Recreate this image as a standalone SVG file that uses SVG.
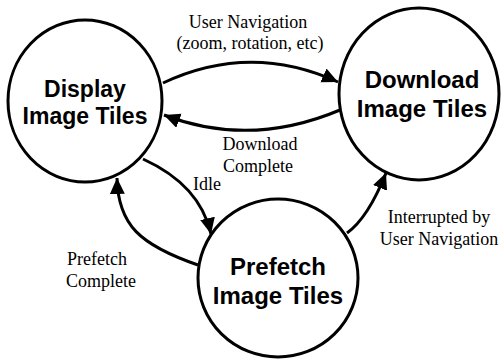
<svg xmlns="http://www.w3.org/2000/svg" width="501" height="360" viewBox="0 0 501 360">
<style>
.node{fill:#fff;stroke:#000;stroke-width:3}
.title{font-family:"Liberation Sans",Arial,sans-serif;font-weight:bold;font-size:24px;text-anchor:middle;fill:#000}
.lbl{font-family:"Liberation Serif","Times New Roman",serif;font-size:18px;fill:#000}
.edge{fill:none;stroke:#000;stroke-width:3;marker-end:url(#arr)}
</style>
<defs>
<marker id="arr" markerUnits="userSpaceOnUse" markerWidth="18" markerHeight="16" refX="16" refY="7.5" orient="auto">
<path d="M0,0 L16,7.5 L0,15 Z" fill="#000"/>
</marker>
</defs>
<rect width="501" height="360" fill="#fff"/>
<g id="display">
<ellipse class="node" cx="85" cy="101" rx="77" ry="81"/>
<text class="title" x="85" y="97" style="font-size:23px">Display</text>
<text class="title" x="85" y="124" style="font-size:23px">Image Tiles</text>
</g>
<g id="download">
<ellipse class="node" cx="419" cy="94" rx="80" ry="86"/>
<text class="title" x="422" y="88">Download</text>
<text class="title" x="422" y="117">Image Tiles</text>
</g>
<g id="prefetch">
<ellipse class="node" cx="278" cy="278" rx="80" ry="79"/>
<text class="title" x="278" y="275">Prefetch</text>
<text class="title" x="278" y="304">Image Tiles</text>
</g>
<g id="connectors">
<path class="edge" d="M163,83 Q250,42 338,82"/>
<path class="edge" d="M340,110 Q250,148 164,115"/>
<path class="edge" d="M143,159 Q200,185 211,234"/>
<path class="edge" d="M198,265 C140,245 118,225 117,178"/>
<path class="edge" d="M347,233 Q368,218 386,173"/>
</g>
<g id="labels" class="lbl">
<text x="248" y="28" text-anchor="middle">User Navigation</text>
<text x="250" y="49" text-anchor="middle">(zoom, rotation, etc)</text>
<text x="260" y="150" text-anchor="middle">Download</text>
<text x="258" y="172" text-anchor="middle">Complete</text>
<text x="193" y="190">Idle</text>
<text x="67" y="265">Prefetch</text>
<text x="66" y="287">Complete</text>
<text x="439" y="223" text-anchor="middle">Interrupted by</text>
<text x="439" y="245" text-anchor="middle">User Navigation</text>
</g>
</svg>
